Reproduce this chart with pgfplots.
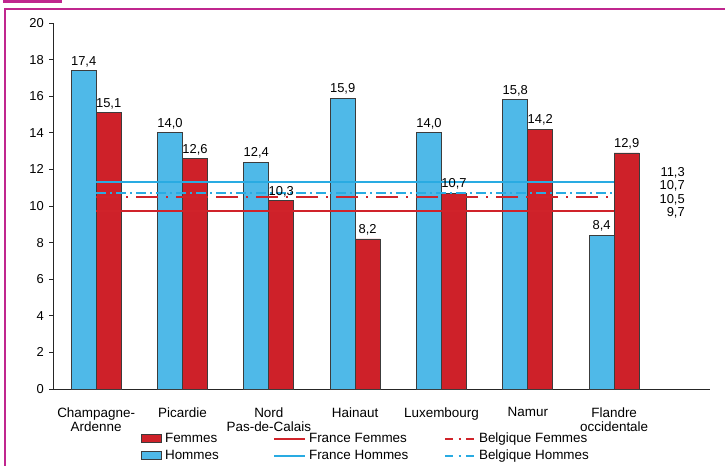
\documentclass[border=0pt]{standalone}
\usepackage{fontspec}
\setmainfont{Liberation Sans}
\usepackage{pgfplots}
\pgfplotsset{compat=1.18}
\definecolor{hblue}{RGB}{79,185,232}
\definecolor{fred}{RGB}{206,33,41}
\definecolor{lblue}{RGB}{41,171,226}
\definecolor{lred}{RGB}{208,35,42}
\definecolor{framec}{RGB}{192,38,142}
\definecolor{edge}{RGB}{60,60,60}
\newcommand\numfont{\fontsize{13}{15}\selectfont}
\newcommand\txtfont{\fontsize{13.5}{14.5}\selectfont}
\begin{document}
\begin{tikzpicture}
\useasboundingbox (0bp,0bp) rectangle (725bp,466bp);
\fill[framec] (3bp,463bp) rectangle (62bp,466bp);
\draw[framec, line width=2bp] (5bp,-5bp) -- (5bp,457bp) -- (730bp,457bp);
\begin{axis}[
  at={(53bp,77bp)}, anchor=south west,
  scale only axis, width=657bp, height=366bp,
  xmin=-0.5, xmax=7.11, ymin=0, ymax=20,
  clip=false,
  axis x line*=bottom, axis y line*=left,
  axis line style={draw=black!85, line width=0.8bp, -},
  ytick={0,2,...,20},
  tick align=outside, major tick length=4bp,
  ytick style={draw=black!85, line width=0.8bp},
  xtick style={draw=none},
  xtick={0,1,2,3,4,5,6},
  xticklabels={{Champagne-\\Ardenne},Picardie,{Nord\\Pas-de-Calais},Hainaut,Luxembourg,Namur,{Flandre\\occidentale}},
  xticklabel style={align=center, anchor=north, yshift=-11bp, font=\txtfont},
  yticklabel style={anchor=east, inner sep=0pt, xshift=-5bp, font=\numfont},
  /pgf/number format/assume math mode=true,
  legend columns=3,
  legend style={at={(axis description cs:0.134,-0.116)}, anchor=north west,
    draw=none, fill=none, inner sep=0pt, column sep=0pt, row sep=3bp,
    nodes={inner xsep=3bp, inner ysep=1bp, font=\txtfont, text height=9.5bp, text depth=2.5bp},
    cells={anchor=west}},
]
% bars
\addplot[ybar, bar width=25bp, bar shift=-12.5bp, fill=hblue, draw=edge, line width=0.8bp, forget plot,
  nodes near coords={\pgfmathprintnumber[fixed,fixed zerofill,precision=1,use comma,assume math mode=true]{\pgfplotspointmeta}},
  every node near coord/.append style={font=\numfont, text=black, xshift=-12.5bp}]
  coordinates {(0,17.4) (1,14.0) (2,12.4) (3,15.9) (4,14.0) (5,15.8) (6,8.4)};
\addplot[ybar, bar width=25bp, bar shift=12.5bp, fill=fred, draw=edge, line width=0.8bp, forget plot,
  nodes near coords={\pgfmathprintnumber[fixed,fixed zerofill,precision=1,use comma,assume math mode=true]{\pgfplotspointmeta}},
  every node near coord/.append style={font=\numfont, text=black, xshift=12.5bp}]
  coordinates {(0,15.1) (1,12.6) (2,10.3) (3,8.2) (4,10.7) (5,14.2) (6,12.9)};
% reference lines
\addplot[lblue, line width=2bp, forget plot] coordinates {(0,11.3) (6,11.3)};
\addplot[lred, line width=2bp, forget plot] coordinates {(0,9.7) (6,9.7)};
\addplot[lblue, line width=2bp, dash pattern=on 10bp off 4bp on 2bp off 4bp, forget plot] coordinates {(0,10.7) (6,10.7)};
\addplot[lred, line width=2.5bp, dash pattern=on 22bp off 8bp on 2bp off 8bp, forget plot] coordinates {(0,10.5) (6,10.5)};
% right-hand value labels
\node[anchor=east, inner sep=0pt, font=\numfont] at (axis cs:6.82,11.82) {11,3};
\node[anchor=east, inner sep=0pt, font=\numfont] at (axis cs:6.82,11.09) {10,7};
\node[anchor=east, inner sep=0pt, font=\numfont] at (axis cs:6.82,10.33) {10,5};
\node[anchor=east, inner sep=0pt, font=\numfont] at (axis cs:6.82,9.62) {9,7};
% legend
\addlegendimage{legend image code/.code={\draw[fill=fred,draw=edge,line width=0.8bp] (0bp,-4bp) rectangle (20bp,4.5bp);}}
\addlegendentry{\makebox[105bp][l]{Femmes}}
\addlegendimage{legend image code/.code={\draw[lred,line width=2bp] (0bp,0bp) -- (31bp,0bp);}}
\addlegendentry{\makebox[132bp][l]{France Femmes}}
\addlegendimage{legend image code/.code={\draw[lred,line width=2bp,dash pattern=on 8bp off 5.5bp on 2bp off 5.5bp] (0bp,0bp) -- (30bp,0bp);}}
\addlegendentry{Belgique Femmes}
\addlegendimage{legend image code/.code={\draw[fill=hblue,draw=edge,line width=0.8bp] (0bp,-4bp) rectangle (20bp,4.5bp);}}
\addlegendentry{\makebox[105bp][l]{Hommes}}
\addlegendimage{legend image code/.code={\draw[lblue,line width=2bp] (0bp,0bp) -- (31bp,0bp);}}
\addlegendentry{\makebox[132bp][l]{France Hommes}}
\addlegendimage{legend image code/.code={\draw[lblue,line width=2bp,dash pattern=on 8bp off 5.5bp on 2bp off 5.5bp] (0bp,0bp) -- (30bp,0bp);}}
\addlegendentry{Belgique Hommes}
\end{axis}
\end{tikzpicture}
\end{document}
